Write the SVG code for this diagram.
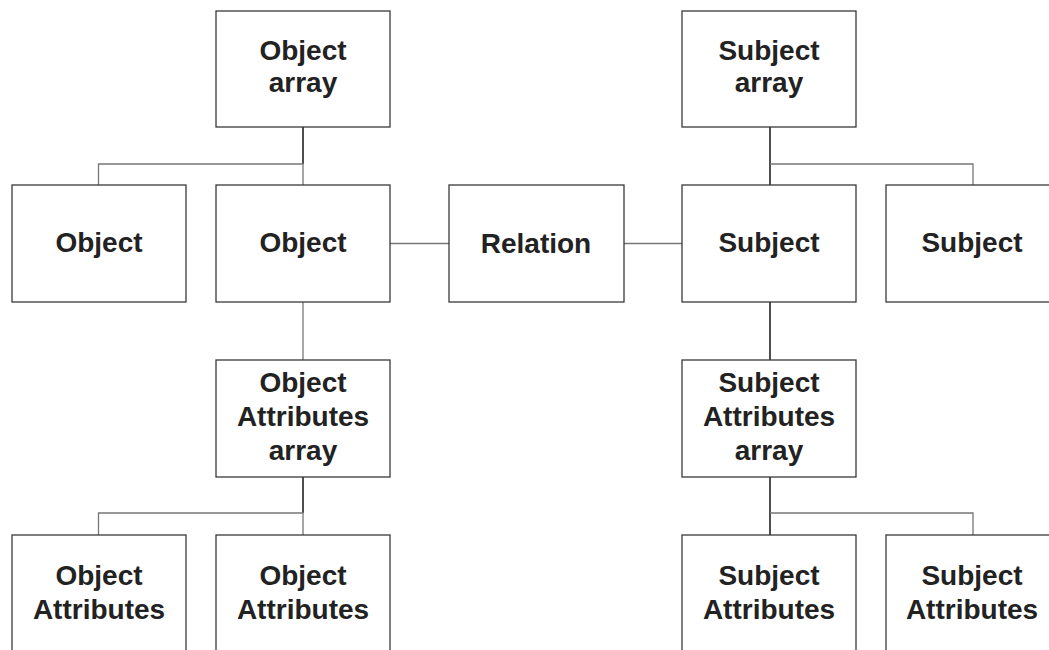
<svg xmlns="http://www.w3.org/2000/svg" width="1049" height="650" viewBox="0 0 1049 650">
<style>
.box{fill:#fff;stroke:#3a3a3a;stroke-width:1.3}
.lbl{font-family:"Liberation Sans",Arial,Helvetica,sans-serif;font-weight:bold;font-size:28px;fill:#222;text-anchor:middle}
.con{fill:none;stroke:#777;stroke-width:1.3}
.stem{fill:none;stroke:#222;stroke-width:1.6}
</style>
<rect width="1049" height="650" fill="#fff"/>
<g id="connectors">
<path class="stem" d="M303,127V164"/>
<path class="con" d="M98.5,185V164H303V185"/>
<path class="con" d="M390,243.5H449"/>
<path class="con" d="M624,243.5H682"/>
<path class="con" d="M303,302V360"/>
<path class="stem" d="M303,477V513"/>
<path class="con" d="M98.5,535V513H303V535"/>
<path class="stem" d="M770,127V185"/>
<path class="con" d="M770,164H973V185"/>
<path class="stem" d="M770,302V360"/>
<path class="stem" d="M770,477V535"/>
<path class="con" d="M770,513H973V535"/>
</g>
<g id="object-array"><rect class="box" x="216" y="11" width="174" height="116"/><text class="lbl" x="303" y="60">Object</text><text class="lbl" x="303" y="92">array</text></g>
<g id="object-1"><rect class="box" x="12" y="185" width="174" height="117"/><text class="lbl" x="99" y="252">Object</text></g>
<g id="object-2"><rect class="box" x="216" y="185" width="174" height="117"/><text class="lbl" x="303" y="252">Object</text></g>
<g id="relation"><rect class="box" x="449" y="185" width="175" height="117"/><text class="lbl" x="536" y="253">Relation</text></g>
<g id="subject-array"><rect class="box" x="682" y="11" width="174" height="116"/><text class="lbl" x="769" y="60">Subject</text><text class="lbl" x="769" y="92">array</text></g>
<g id="subject-1"><rect class="box" x="682" y="185" width="174" height="117"/><text class="lbl" x="769" y="252">Subject</text></g>
<g id="subject-2"><rect class="box" x="886" y="185" width="174" height="117"/><text class="lbl" x="972" y="252">Subject</text></g>
<g id="object-attributes-array"><rect class="box" x="216" y="360" width="174" height="117"/><text class="lbl" x="303" y="392">Object</text><text class="lbl" x="303" y="426">Attributes</text><text class="lbl" x="303" y="460">array</text></g>
<g id="subject-attributes-array"><rect class="box" x="682" y="360" width="174" height="117"/><text class="lbl" x="769" y="392">Subject</text><text class="lbl" x="769" y="426">Attributes</text><text class="lbl" x="769" y="460">array</text></g>
<g id="object-attributes-1"><rect class="box" x="12" y="535" width="174" height="117"/><text class="lbl" x="99" y="585">Object</text><text class="lbl" x="99" y="619">Attributes</text></g>
<g id="object-attributes-2"><rect class="box" x="216" y="535" width="174" height="117"/><text class="lbl" x="303" y="585">Object</text><text class="lbl" x="303" y="619">Attributes</text></g>
<g id="subject-attributes-1"><rect class="box" x="682" y="535" width="174" height="117"/><text class="lbl" x="769" y="585">Subject</text><text class="lbl" x="769" y="619">Attributes</text></g>
<g id="subject-attributes-2"><rect class="box" x="886" y="535" width="174" height="117"/><text class="lbl" x="972" y="585">Subject</text><text class="lbl" x="972" y="619">Attributes</text></g>
</svg>
